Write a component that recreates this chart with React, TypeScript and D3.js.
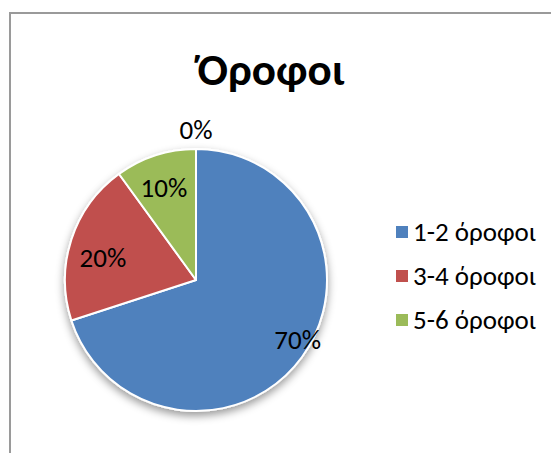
import React, { useEffect, useRef } from 'react';
import * as d3 from 'd3';

const title = 'Όροφοι';
const categories = ['1-2 όροφοι', '3-4 όροφοι', '5-6 όροφοι', ''];
const values = [70, 20, 10, 0];
const colors = ['#4F81BD', '#C0504D', '#9BBB59', '#8064A2'];
// best-fit label placement: distance (fraction of radius) and angle shift (deg)
const labelRadius = [0.9, 0.73, 0.745, 1.145];
const labelShift = [-5.5, -4.7, -1.2, 0];

function App() {
  const ref = useRef<SVGSVGElement>(null);

  useEffect(() => {
    drawChart();
  }, []);

  function drawChart() {
    const width = 551, height = 453;
    const svg = d3.select(ref.current);
    svg.selectAll('*').remove();

    const font = 'Carlito, Lato, "Open Sans", sans-serif';
    const cx = 196, cy = 280, r = 131;

    const defs = svg.append('defs');
    const f = defs.append('filter').attr('id', 'shadow')
      .attr('x', '-20%').attr('y', '-20%').attr('width', '140%').attr('height', '140%');
    f.append('feDropShadow')
      .attr('dx', 0).attr('dy', 4).attr('stdDeviation', 4)
      .attr('flood-color', '#000').attr('flood-opacity', 0.4);

    svg.append('rect')
      .attr('x', 10).attr('y', 13)
      .attr('width', width + 20).attr('height', height + 20)
      .attr('fill', '#fff')
      .attr('stroke', '#9a9a9a').attr('stroke-width', 2);

    svg.append('text')
      .attr('x', 271).attr('y', 85)
      .attr('text-anchor', 'middle')
      .attr('font-family', font)
      .attr('font-weight', 'bold')
      .attr('font-size', 45)
      .text(title);

    const data = values.map((v, i) => ({ v, i }));
    const pie = d3.pie<{ v: number; i: number }>()
      .value(d => d.v)
      .sort(null);
    const arcs = pie(data);
    const arc = d3.arc<d3.PieArcDatum<{ v: number; i: number }>>()
      .innerRadius(0).outerRadius(r);

    const g = svg.append('g').attr('transform', `translate(${cx},${cy})`);

    g.append('g')
      .attr('filter', 'url(#shadow)')
      .selectAll('path')
      .data(arcs)
      .join('path')
      .attr('d', arc)
      .attr('fill', d => colors[d.data.i])
      .attr('stroke', '#fff')
      .attr('stroke-width', 2)
      .attr('stroke-linejoin', 'round');

    const total = d3.sum(values);
    g.append('g')
      .selectAll('text')
      .data(arcs)
      .join('text')
      .attr('transform', d => {
        const lr = r * labelRadius[d.data.i];
        const a = (d.startAngle + d.endAngle) / 2 + (labelShift[d.data.i] * Math.PI) / 180;
        return `translate(${lr * Math.sin(a)},${-lr * Math.cos(a)})`;
      })
      .attr('text-anchor', 'middle')
      .attr('dy', '0.35em')
      .attr('font-family', font)
      .attr('font-size', 27)
      .attr('fill', '#000')
      .text(d => `${Math.round((d.data.v / total) * 100)}%`);

    const legend = svg.append('g').attr('transform', 'translate(396,232)');
    const items = legend.selectAll('g')
      .data(categories.filter(c => c !== ''))
      .join('g')
      .attr('transform', (d, i) => `translate(0,${i * 44})`);
    items.append('rect')
      .attr('x', 0).attr('y', -6)
      .attr('width', 12).attr('height', 12)
      .attr('fill', (d, i) => colors[i]);
    items.append('text')
      .attr('x', 17).attr('dy', '0.35em')
      .attr('font-family', font)
      .attr('font-size', 27)
      .text(d => d);
  }

  return (
    <svg
      ref={ref}
      width={551}
      height={453}
      style={{ position: 'absolute', left: 0, top: 0, background: '#fff' }}
    />
  );
}

export default App;
